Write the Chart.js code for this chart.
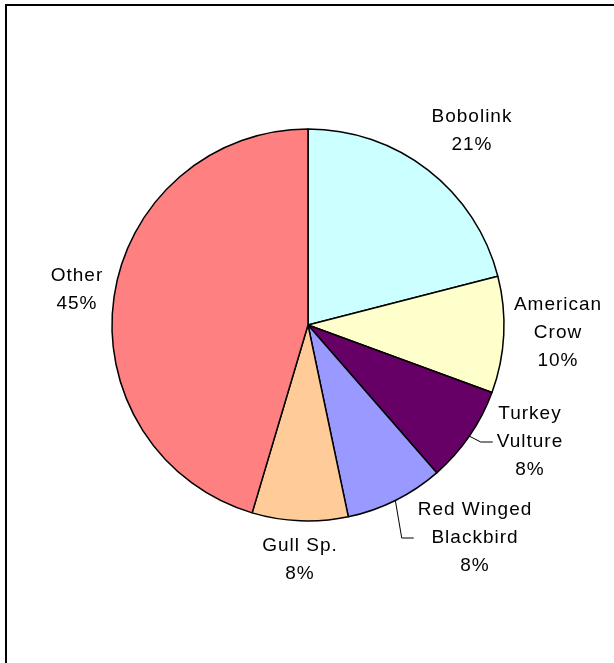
<!DOCTYPE html>
<html>
<head>
<meta charset="utf-8">
<script src="https://cdn.jsdelivr.net/npm/chart.js@4"></script>
<style>
    html, body { margin: 0; padding: 0; background: #fff; overflow: hidden; }
    #wrap { position: relative; width: 614px; height: 663px; }
    #frame {
        position: absolute; left: 5px; top: 4px; width: 700px; height: 700px;
        border-left: 2px solid #000; border-top: 2px solid #000;
    }
    #birdChart { position: absolute; left: 0; top: 0; }
</style>
</head>
<body>
<div id="wrap">
    <div id="frame"></div>
    <canvas id="birdChart" width="614" height="663"></canvas>
</div>
<script>
const species = ['Bobolink', 'American Crow', 'Turkey Vulture', 'Red Winged Blackbird', 'Gull Sp.', 'Other'];
const share = [21.0, 9.6, 8.0, 8.1, 7.9, 45.4];
const sliceColors = ['#CCFFFF', '#FFFFCC', '#660066', '#9999FF', '#FFCC99', '#FF8080'];

// label text lines (as Excel wrapped them) and where each label sits, relative to the pie centre
const labelLines = [['Bobolink'], ['American', 'Crow'], ['Turkey', 'Vulture'], ['Red Winged', 'Blackbird'], ['Gull Sp.'], ['Other']];
const labelOffsets = [[164, -194], [250, 8], [222, 117], [167, 213], [-8, 235], [-231, -35]];
const hasLeader = [false, false, true, true, false, false];

const labelPlugin = {
    id: 'pieLabels',
    afterDraw(chart) {
        const ctx = chart.ctx;
        const arcs = chart.getDatasetMeta(0).data;
        const total = share.reduce((a, b) => a + b, 0);
        const lineH = 28;
        ctx.save();
        ctx.font = '19px "Liberation Sans", Arial, sans-serif';
        ctx.letterSpacing = '1px';
        ctx.fillStyle = '#000';
        ctx.textAlign = 'center';
        ctx.textBaseline = 'middle';
        arcs.forEach((arc, i) => {
            const lines = labelLines[i].concat([Math.round(share[i] / total * 100) + '%']);
            const cx = arc.x + labelOffsets[i][0];
            const cy = arc.y + labelOffsets[i][1];
            const top = cy - (lines.length - 1) * lineH / 2;
            lines.forEach((t, k) => ctx.fillText(t, cx, top + k * lineH));

            if (hasLeader[i]) {
                const w = Math.max(...lines.map(t => ctx.measureText(t).width));
                const mid = (arc.startAngle + arc.endAngle) / 2;
                const sx = arc.x + Math.cos(mid) * arc.outerRadius;
                const sy = arc.y + Math.sin(mid) * arc.outerRadius;
                const ex = cx - w / 2 - 4;
                ctx.beginPath();
                ctx.strokeStyle = '#000';
                ctx.lineWidth = 1;
                ctx.moveTo(sx, sy);
                ctx.lineTo(ex - 12, cy);
                ctx.lineTo(ex, cy);
                ctx.stroke();
            }
        });
        ctx.restore();
    }
};

new Chart(document.getElementById('birdChart').getContext('2d'), {
    type: 'pie',
    data: {
        labels: species,
        datasets: [{
            data: share,
            backgroundColor: sliceColors,
            borderColor: '#000',
            borderWidth: 1.5
        }]
    },
    options: {
        responsive: false,
        animation: false,
        radius: 196,
        layout: { padding: { left: 112, right: 110, top: 129, bottom: 142 } },
        plugins: {
            legend: { display: false },
            tooltip: { enabled: false }
        }
    },
    plugins: [labelPlugin]
});
</script>
</body>
</html>
